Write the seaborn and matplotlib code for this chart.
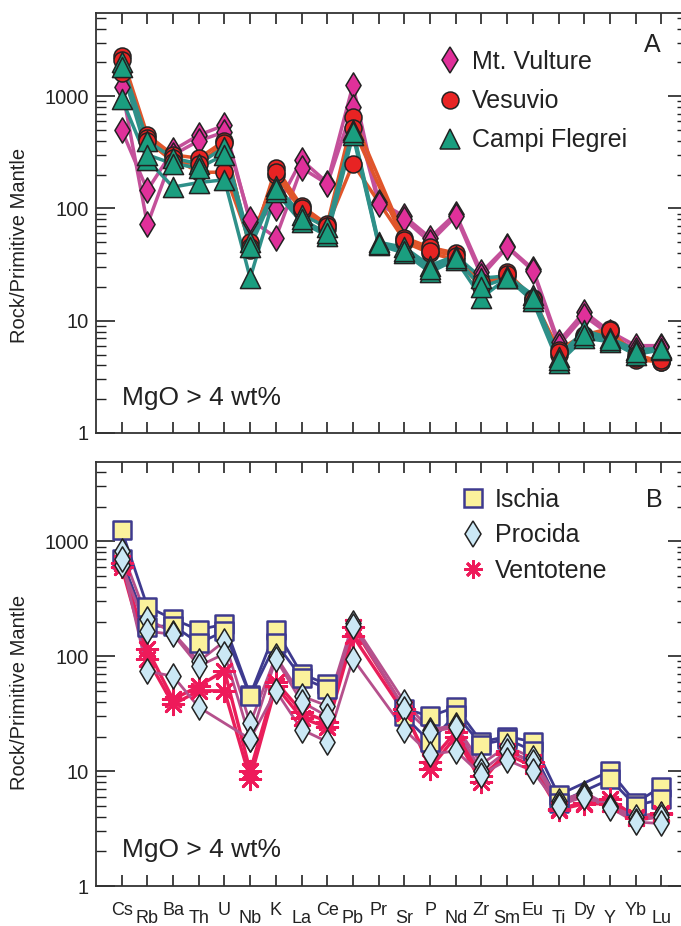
import numpy as np
import pandas as pd
import matplotlib
matplotlib.use("Agg")
import matplotlib.pyplot as plt
import seaborn as sns
from matplotlib.lines import Line2D
from matplotlib.ticker import LogLocator, NullFormatter, FuncFormatter

nan = np.nan
elements = ["Cs", "Rb", "Ba", "Th", "U", "Nb", "K", "La", "Ce", "Pb", "Pr",
            "Sr", "P", "Nd", "Zr", "Sm", "Eu", "Ti", "Dy", "Y", "Yb", "Lu"]

# ---- Panel A ----
vulture_1 = [500, 145, 330, 450, 550, 75, 100, 270, 170, 1250, 115, 85, 55, 90, 27, 46, 29, 6.5, 12, 8, 6, 6]
vulture_2 = [1200, 72, 300, 400, 480, 80, 55, 230, 165, 800, 110, 80, 50, 85, 25, 45, 28, 6.0, 11, 7.5, 5.5, 5.8]
vesuvio_1 = [2300, 450, 300, 280, 400, 43, 230, 105, 72, 650, nan, 55, 45, 40, 21, 27, 16, 5.5, 7.5, 8.5, 4.5, 4.3]
vesuvio_2 = [1600, 420, 280, 210, 210, 50, 200, 95, 65, 520, nan, 50, 40, 35, 20, 25, 15, 5.0, 7.0, 8.0, 5.0, 4.3]
vesuvio_3 = [2100, 400, 260, 250, 380, 45, 210, 100, 70, 250, nan, 52, 42, 38, 22, 26, 15.5, 5.3, 7.2, 8.3, 4.7, 4.5]
flegrei_1 = [2000, 400, 280, 250, 350, 50, 160, 88, 68, 500, 50, 45, 31, 38, 24, 25, 17, 4.8, 8.2, 7.0, 5.5, 5.7]
flegrei_2 = [950, 270, 155, 170, 180, 24, 140, 75, 57, 450, 47, 40, 27, 35, 16, 24, 15, 4.2, 7.0, 6.5, 5.0, 5.5]
flegrei_3 = [1800, 300, 250, 230, 300, 45, 150, 80, 60, 480, 48, 42, 29, 36, 20, 24, 16, 4.5, 7.5, 6.8, 5.3, 5.6]

# ---- Panel B ----
ischia_1 = [1250, 270, 210, 170, 190, 46, 170, 70, 57, nan, nan, 35, 30, 36, 18, 20, 18, 6.2, nan, 10, 5.3, 7.3]
ischia_2 = [700, 180, 185, 130, 165, 45, 130, 65, 52, nan, nan, 30, 18, 31, 17, 19, 15, 5.3, nan, 8.5, 5.0, 5.7]
ischia_breaks = ["Pb"]   # Ischia profiles are interrupted here
procida_1 = [830, 210, 160, 90, 135, 26, 100, 45, 37, 195, nan, 40, 23, 25, 11.5, 16.5, 13, 5.5, 6.5, 5.0, 4.0, 4.2]
procida_2 = [620, 165, 155, 82, 105, 19, 95, 40, 30, 185, nan, 35, 22, 24, 10, 15, 12, 5.2, 6.2, 4.9, 3.7, 4.0]
procida_3 = [700, 74, 67, 36, nan, 19, 50, 23, 18, 95, nan, 23, 14, 15, 9.3, 12.5, 10, 5.0, 6.0, 4.8, 3.6, 3.5]
ventotene_1 = [650, 115, 42, 55, 75, 10, 60, 33, 27, 180, nan, 35, 10.5, 20, 8, 15, 12, 4.7, 5.3, 5.7, 4.0, 4.3]
ventotene_2 = [600, 95, 38, 50, 50, 8.5, 55, 29, 24, 150, nan, 32, 12, 22, 9, 14, 11, 4.6, 5.2, 5.2, 3.9, 4.2]

sns.set_style("ticks")
plt.rcParams["font.family"] = ["Liberation Sans", "DejaVu Sans"]
TXT = "#222222"

W, H = 681, 926
fig = plt.figure(figsize=(W / 100, H / 100), dpi=100)


def fx(px):
    return px / W


def fy(py):
    return 1 - py / H


axA = fig.add_axes([fx(96), fy(433), fx(687) - fx(96), fy(13) - fy(433)])
axB = fig.add_axes([fx(96), fy(886), fx(687) - fx(96), fy(462) - fy(886)])


def draw_suite(ax, samples, line_color, face, edge, marker, s, lw, mew, breaks=()):
    frames = []
    bpos = [elements.index(b) for b in breaks]
    for name, vals in samples.items():
        pos = np.arange(len(elements))
        seg = np.array([sum(p >= b for b in bpos) for p in pos])
        df = pd.DataFrame({"pos": pos, "value": vals,
                           "unit": [f"{name}_{k}" for k in seg]}).dropna()
        frames.append(df)
    d = pd.concat(frames, ignore_index=True)
    sns.lineplot(data=d, x="pos", y="value", units="unit", estimator=None,
                 color=line_color, lw=lw, ax=ax, sort=False, legend=False)
    sns.scatterplot(data=d, x="pos", y="value", marker=marker, s=s,
                    color=face, edgecolor=edge, linewidth=mew, ax=ax, legend=False, zorder=3)


# Panel A
draw_suite(axA, {"v1": vulture_1, "v2": vulture_2}, "#C4509A", "#E0309A", "#222222", "d", 165, 2.5, 1.1)
draw_suite(axA, {"e1": vesuvio_1, "e2": vesuvio_2, "e3": vesuvio_3}, "#E0552A", "#E82323", "#222222", "o", 150, 2.5, 1.1)
draw_suite(axA, {"f1": flegrei_1, "f2": flegrei_2, "f3": flegrei_3}, "#2E9089", "#1A9E7F", "#222222", "^", 210, 2.5, 1.1)

# Panel B
draw_suite(axB, {"i1": ischia_1, "i2": ischia_2}, "#3E3A8F", "#FBF29C", "#3E3A8F", "s", 175, 2.0, 1.8,
           breaks=ischia_breaks)
draw_suite(axB, {"v1": ventotene_1, "v2": ventotene_2}, "#E91E5A", "#EE1A5A", "#EE1A5A", (8, 2, 0), 220, 2.4, 2.0)
draw_suite(axB, {"p1": procida_1, "p2": procida_2, "p3": procida_3}, "#B5508C", "#CBE8F5", "#222222", "d", 165, 2.0, 1.1)

even = list(range(0, len(elements), 2))
odd = list(range(1, len(elements), 2))

for ax, top in ((axA, 5500), (axB, 4900)):
    ax.set_yscale("log")
    ax.set_xlim(-1, 22)
    ax.set_ylim(1, top)
    ax.set_xlabel("")
    ax.set_ylabel("")
    ax.yaxis.set_major_locator(LogLocator(base=10, numticks=10))
    ax.yaxis.set_minor_locator(LogLocator(base=10, subs=np.arange(2, 10), numticks=20))
    ax.yaxis.set_major_formatter(FuncFormatter(lambda v, p: f"{v:g}"))
    ax.yaxis.set_minor_formatter(NullFormatter())
    ax.tick_params(axis="y", which="major", direction="in", length=14, width=1.2,
                   left=True, right=True, labelsize=14.5, pad=5, colors=TXT)
    ax.tick_params(axis="y", which="minor", direction="in", length=7, width=1.0,
                   left=True, right=True, colors=TXT)
    ax.set_xticks(even, [elements[i] for i in even])
    ax.set_xticks(odd, [elements[i] for i in odd], minor=True)
    ax.tick_params(axis="x", which="both", direction="in", length=8, width=1.2,
                   top=True, bottom=True, labelsize=13, colors=TXT)
    ax.tick_params(axis="x", which="major", pad=11.2)
    ax.tick_params(axis="x", which="minor", pad=17)
    for sp in ax.spines.values():
        sp.set_linewidth(1.3)
        sp.set_color("#333333")
        sp.set_visible(True)

axA.tick_params(axis="x", which="both", labelbottom=False)

# Legends
hA = [Line2D([], [], ls="none", marker="d", markersize=12.8, mfc="#E0309A", mec="#222222", mew=1.1),
      Line2D([], [], ls="none", marker="o", markersize=12.2, mfc="#E82323", mec="#222222", mew=1.1),
      Line2D([], [], ls="none", marker="^", markersize=14.5, mfc="#1A9E7F", mec="#222222", mew=1.1)]
axA.legend(hA, ["Mt. Vulture", "Vesuvio", "Campi Flegrei"], loc="upper left",
           bbox_to_anchor=(fx(437), fy(50)), bbox_transform=fig.transFigure, frameon=False,
           fontsize=18, handlelength=1.0, handletextpad=0.4, labelspacing=0.61,
           borderpad=0, borderaxespad=0, labelcolor=TXT)

hB = [Line2D([], [], ls="none", marker="s", markersize=13, mfc="#FBF29C", mec="#3E3A8F", mew=1.8),
      Line2D([], [], ls="none", marker="d", markersize=12.8, mfc="#CBE8F5", mec="#222222", mew=1.1),
      Line2D([], [], ls="none", marker=(8, 2, 0), markersize=13, mfc="#EE1A5A", mec="#EE1A5A", mew=2.0)]
axB.legend(hB, ["Ischia", "Procida", "Ventotene"], loc="upper left",
           bbox_to_anchor=(fx(460), fy(488)), bbox_transform=fig.transFigure, frameon=False,
           fontsize=18, handlelength=1.0, handletextpad=0.4, labelspacing=0.46,
           borderpad=0, borderaxespad=0, labelcolor=TXT)

# Text
fig.text(fx(652), fy(45), "A", ha="center", va="center", fontsize=18, color=TXT)
fig.text(fx(654), fy(500), "B", ha="center", va="center", fontsize=18, color=TXT)
fig.text(fx(122), fy(398), "MgO > 4 wt%", ha="left", va="center", fontsize=19, color=TXT)
fig.text(fx(122), fy(850), "MgO > 4 wt%", ha="left", va="center", fontsize=19, color=TXT)
fig.text(fx(20), fy(245), "Rock/Primitive Mantle", ha="center", va="center", rotation=90, fontsize=14.5, color=TXT)
fig.text(fx(20), fy(692), "Rock/Primitive Mantle", ha="center", va="center", rotation=90, fontsize=14.5, color=TXT)

fig.savefig("out.png", dpi=100)
